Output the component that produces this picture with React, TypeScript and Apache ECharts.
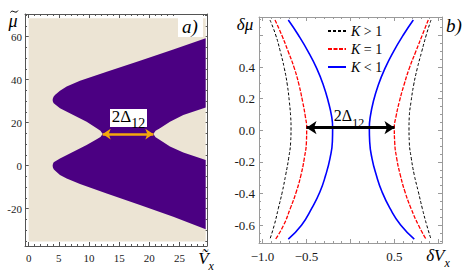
import React, { useEffect, useRef } from "react";
import * as echarts from "echarts";

// ---------- Panel a) : region boundaries (Vx, mu) ----------
const upperOuter = [[3.97, 30.6], [4.02, 31.4], [4.15, 32.2], [4.4, 33.0], [5.19, 34.9], [6.3, 36.8], [8.51, 39.5], [12.94, 43.7], [18.46, 48.8], [23.98, 54.1], [29.35, 59.3]];
const upperInner = [[3.97, 30.6], [4.02, 29.8], [4.15, 29.0], [5.19, 26.7], [7.4, 23.6], [9.61, 20.5], [11.28, 17.4], [11.9, 16.2], [12.27, 14.7]];
const lowerInner = [[3.97, 0], [4.02, 0.8], [4.15, 1.6], [5.19, 3.4], [7.4, 6.5], [9.61, 9.6], [11.28, 12.3], [11.9, 13.3], [12.27, 14.7]];
const lowerOuter = [[3.97, 0], [4.02, -0.8], [4.15, -1.6], [4.4, -2.4], [5.19, -4.3], [6.3, -5.9], [8.51, -8.5], [12.94, -12.9], [18.46, -18.3], [23.98, -23.7], [29.35, -29.6]];
const rightGapTop = [[20.67, 14.7], [21.05, 16.2], [21.77, 17.4], [23.43, 20.5], [25.64, 23.6], [29.35, 27.1]];
const rightGapBottom = [[20.67, 14.7], [21.05, 13.2], [21.77, 12.0], [23.43, 8.9], [25.64, 6.1], [29.35, 2.7]];
const plotRangeAx = [0, 29.35];
const plotRangeAy = [-35.3, 68.6];
const gapArrowA = [[12.27, 14.7], [20.67, 14.7]];
const ticksAxMajor = [0, 5, 10, 15, 20, 25];
const ticksAyMajor = [-20, 0, 20, 40, 60];

// ---------- Panel b) : curves (dVx at each dmu level) ----------
const muLevels = [0.698, 0.603, 0.497, 0.392, 0.287, 0.181, 0.086, 0.017, -0.072, -0.177, -0.283, -0.389, -0.494, -0.599, -0.688];
const kGtLeft = [-0.915, -0.85, -0.797, -0.752, -0.718, -0.695, -0.68, -0.676, -0.68, -0.703, -0.737, -0.775, -0.82, -0.866, -0.915];
const kGtRight = [0.915, 0.861, 0.809, 0.759, 0.718, 0.688, 0.668, 0.665, 0.668, 0.691, 0.725, 0.771, 0.816, 0.866, 0.915];
const kEqLeft = [-0.858, -0.782, -0.707, -0.638, -0.585, -0.544, -0.513, -0.498, -0.501, -0.525, -0.563, -0.616, -0.684, -0.759, -0.85];
const kEqRight = [0.884, 0.816, 0.741, 0.668, 0.608, 0.555, 0.517, 0.498, 0.502, 0.525, 0.566, 0.619, 0.688, 0.771, 0.858];
const kLtLeft = [-0.707, -0.593, -0.48, -0.384, -0.309, -0.252, -0.214, -0.203, -0.206, -0.233, -0.282, -0.347, -0.441, -0.555, -0.707];
const kLtRight = [0.714, 0.6, 0.487, 0.392, 0.316, 0.259, 0.225, 0.214, 0.218, 0.244, 0.293, 0.358, 0.449, 0.57, 0.725];
const legendNames = ["K > 1", "K = 1", "K < 1"];
const gapArrowB = [[-0.5, 0.017], [0.5, 0.017]];
const ticksBxMajor = [-1, -0.5, 0, 0.5, 1];
const ticksBxLabels = [-1, -0.5, 0.5];
const ticksByMajor = [-0.6, -0.4, -0.2, 0, 0.2, 0.4, 0.6];
const ticksByLabels = [-0.6, -0.4, -0.2, 0, 0.2, 0.4];

const FONT = "Liberation Serif";
const FONTQ = "'Liberation Serif', serif";
const BEIGE = "#ece4d4";
const PURPLE = "#4b0082";
const ORANGE = "#f5a80c";

function range(a: number, b: number, step: number) {
  const out: number[] = [];
  for (let v = a; v <= b + 1e-9; v += step) out.push(Math.round(v * 1000) / 1000);
  return out;
}

function makeAxes(kind: "x" | "y", gridIndex: number, min: number, max: number, majors: number[], minors: number[], labels: number[], fmt: any, fontSize: number, frameColor: string, margin: number) {
  const [p1, p2] = kind === "x" ? ["bottom", "top"] : ["left", "right"];
  const base = { type: "value", gridIndex, min, max, splitLine: { show: false } };
  const line = { show: true, onZero: false, lineStyle: { color: frameColor, width: 1 } };
  return [
    { ...base, position: p1, axisLine: line, axisTick: { show: true, inside: true, length: 4, customValues: majors, lineStyle: { color: frameColor } },
      axisLabel: { show: true, customValues: labels, formatter: fmt, fontFamily: FONT, fontSize, color: "#1a1a1a", margin } },
    { ...base, position: p1, axisLine: { show: false, onZero: false }, axisTick: { show: true, inside: true, length: 2, customValues: minors, lineStyle: { color: frameColor } }, axisLabel: { show: false } },
    { ...base, position: p2, axisLine: line, axisTick: { show: true, inside: true, length: 4, customValues: majors, lineStyle: { color: frameColor } }, axisLabel: { show: false } },
    { ...base, position: p2, axisLine: { show: false, onZero: false }, axisTick: { show: true, inside: true, length: 2, customValues: minors, lineStyle: { color: frameColor } }, axisLabel: { show: false } },
  ];
}

const zip = (xs: number[], ys: number[]) => xs.map((x, i) => [x, ys[i]]);

export default function App() {
  const ref = useRef<HTMLDivElement>(null);
  useEffect(() => {
    const chart = echarts.init(ref.current!, null, { renderer: "svg" });
    const polygon = [
      ...upperOuter,
      ...rightGapTop.slice().reverse(),
      ...rightGapBottom,
      ...lowerOuter.slice().reverse(),
      ...lowerInner,
      ...upperInner.slice().reverse(),
    ];
    const minorsAx = range(0, 29, 1).filter((v) => v % 5 !== 0);
    const minorsAy = range(-35, 70, 5).filter((v) => v % 20 !== 0);
    const minorsBx = range(-1, 1, 0.1);
    const minorsBy = range(-0.7, 0.7, 0.05);

    const fmtA = (v: number) => String(v);
    const fmtBx = (v: number) => (v < 0 ? "\u2212" + Math.abs(v).toFixed(1) : v.toFixed(1));
    const fmtBy = (v: number) => (Math.abs(v) < 1e-9 ? "0.0" : v.toFixed(1));

    const xAxis = [
      ...makeAxes("x", 0, -0.61, 29.57, ticksAxMajor, minorsAx, ticksAxMajor, fmtA, 11, "#555", 6),
      ...makeAxes("x", 1, -1.04, 1.04, ticksBxMajor, minorsBx, ticksBxLabels, fmtBx, 13, "#9a9a9a", 7),
    ];
    const yAxis = [
      ...makeAxes("y", 0, -37.35, 70.56, ticksAyMajor, minorsAy, ticksAyMajor, fmtA, 11, "#555", 3),
      ...makeAxes("y", 1, -0.713, 0.717, ticksByMajor, minorsBy, ticksByLabels, fmtBy, 13, "#9a9a9a", 4),
    ];

    const curve = (name: string, xs: number[], color: string, width: number, type: any) => ({
      type: "line", name, xAxisIndex: 4, yAxisIndex: 4, data: zip(xs, muLevels),
      symbol: "none", showSymbol: false, smooth: true, color,
      lineStyle: { color, width, type }, z: 3,
    });

    const sub = (main: number, s: number) => ({
      m: { fontFamily: FONT, fontSize: main, lineHeight: main + 5, verticalAlign: "bottom", padding: [0, 0, 5, 0], fill: "#000" },
      s: { fontFamily: FONT, fontSize: s, lineHeight: s + 1, verticalAlign: "bottom", fill: "#000" },
      mi: { fontFamily: FONT, fontStyle: "italic", fontSize: main, lineHeight: main + 5, verticalAlign: "bottom", padding: [0, 0, 5, 0], fill: "#000" },
      si: { fontFamily: FONT, fontStyle: "italic", fontSize: s, lineHeight: s + 1, verticalAlign: "bottom", fill: "#000" },
    });

    chart.setOption({
      animation: false,
      backgroundColor: "#fff",
      grid: [
        { left: 25, top: 14, width: 182, height: 232 },
        { left: 259, top: 17, width: 183, height: 226 },
      ],
      xAxis,
      yAxis,
      legend: {
        data: legendNames, orient: "vertical", left: 322, top: 19,
        itemWidth: 18, itemHeight: 10, itemGap: 4,
        itemStyle: { opacity: 0, borderWidth: 0 },
        formatter: (n: string) => `{i|K}{r| ${n.slice(2)}}`,
        textStyle: {
          fontFamily: FONT, fontSize: 14, color: "#000",
          rich: {
            i: { fontFamily: FONT, fontStyle: "italic", fontSize: 14, lineHeight: 14 },
            r: { fontFamily: FONT, fontSize: 14, lineHeight: 14 },
          },
        },
      },
      series: [
        {
          type: "custom", xAxisIndex: 0, yAxisIndex: 0, data: [[plotRangeAx[0], plotRangeAy[0]]], z: 1, silent: true,
          renderItem: (_p: any, api: any) => {
            const a = api.coord([plotRangeAx[0], plotRangeAy[1]]);
            const b = api.coord([plotRangeAx[1], plotRangeAy[0]]);
            return { type: "rect", shape: { x: a[0], y: a[1], width: b[0] - a[0], height: b[1] - a[1] }, style: { fill: BEIGE } };
          },
        },
        {
          type: "custom", xAxisIndex: 0, yAxisIndex: 0, data: [[polygon[0][0], polygon[0][1]]], z: 2, silent: true,
          renderItem: (_p: any, api: any) => ({
            type: "polygon", shape: { points: polygon.map((p) => api.coord(p)) }, style: { fill: PURPLE },
          }),
        },
        {
          type: "lines", coordinateSystem: "cartesian2d", xAxisIndex: 0, yAxisIndex: 0, z: 5,
          data: [{ coords: gapArrowA }], symbol: ["arrow", "arrow"], symbolSize: 8,
          lineStyle: { color: ORANGE, width: 2.5, opacity: 1, curveness: 0 }, silent: true,
        },
        curve("K > 1", kGtLeft, "#000000", 1, [3, 2]),
        curve("K > 1", kGtRight, "#000000", 1, [3, 2]),
        curve("K = 1", kEqLeft, "#ff0000", 1.3, [4, 1.5]),
        curve("K = 1", kEqRight, "#ff0000", 1.3, [4, 1.5]),
        curve("K < 1", kLtLeft, "#0000ff", 1.6, "solid"),
        curve("K < 1", kLtRight, "#0000ff", 1.6, "solid"),
        {
          type: "lines", coordinateSystem: "cartesian2d", xAxisIndex: 4, yAxisIndex: 4, z: 5,
          data: [{ coords: gapArrowB }], symbol: ["arrow", "arrow"], symbolSize: 10,
          lineStyle: { color: "#000", width: 3, opacity: 1, curveness: 0 }, silent: true,
        },
      ],
      graphic: [
        { type: "rect", z: 100, shape: { x: 178, y: 15, width: 25, height: 22 }, style: { fill: "#fff" } },
        { type: "text", z: 101, x: 190, y: 26, style: { text: "a)", font: `italic 19px ${FONTQ}`, fill: "#000", align: "center", verticalAlign: "middle" } },
        { type: "text", z: 101, x: 13, y: 21, style: { text: "\u03bc", font: `italic 18px ${FONTQ}`, fill: "#000", align: "center", verticalAlign: "middle" } },
        { type: "bezierCurve", z: 101, shape: { x1: 10.5, y1: 12.5, cpx1: 12.5, cpy1: 8.5, cpx2: 15.5, cpy2: 15, x2: 18, y2: 10.5 }, style: { stroke: "#000", lineWidth: 1, fill: null } },
        { type: "rect", z: 100, shape: { x: 110, y: 109, width: 37, height: 18 }, style: { fill: "#fff" } },
        { type: "text", z: 101, x: 128.5, y: 119, style: { text: "{m|2\u0394}{s|12}", rich: sub(17, 14), align: "center", verticalAlign: "middle" } },
        { type: "text", z: 101, x: 206, y: 261, style: { text: "{mi|\u1E7C}{si|x}", rich: sub(17, 12), align: "center", verticalAlign: "middle" } },
        { type: "text", z: 101, x: 245, y: 24, style: { text: "\u03b4\u03bc", font: `italic 17px ${FONTQ}`, fill: "#000", align: "center", verticalAlign: "middle" } },
        { type: "text", z: 101, x: 454, y: 25, style: { text: "b)", font: `italic 19px ${FONTQ}`, fill: "#000", align: "center", verticalAlign: "middle" } },
        { type: "text", z: 101, x: 438, y: 258, style: { text: "{mi|\u03b4V}{si|x}", rich: sub(17, 12), align: "center", verticalAlign: "middle" } },
        { type: "text", z: 101, x: 349, y: 118, style: { text: "{m|2\u0394}{s|12}", rich: sub(16, 12), align: "center", verticalAlign: "middle" } },
      ],
    });
    return () => chart.dispose();
  }, []);
  return <div ref={ref} style={{ position: "fixed", left: 0, top: 0, width: 471, height: 274 }} />;
}
